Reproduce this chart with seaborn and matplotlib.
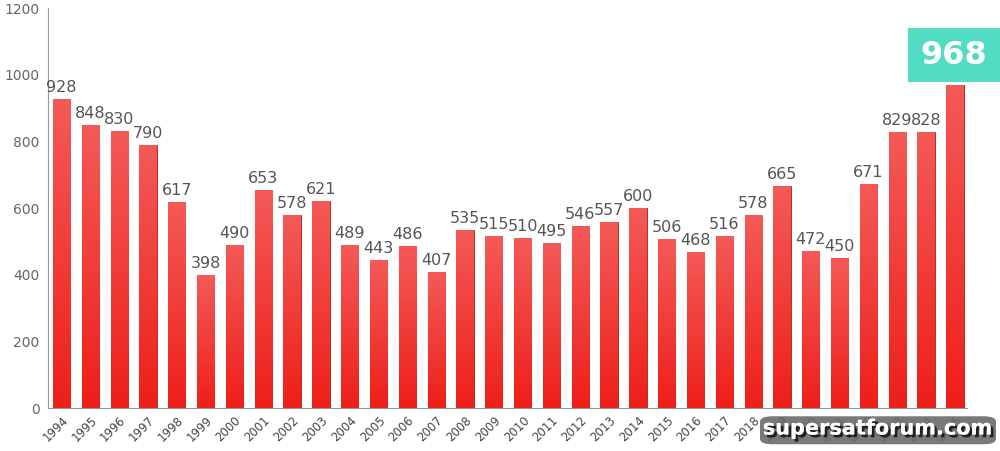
import numpy as np
import pandas as pd
import matplotlib
matplotlib.use("Agg")
import matplotlib.pyplot as plt
import matplotlib.patheffects as pe
import seaborn as sns
from matplotlib.patches import FancyBboxPatch

years = [str(y) for y in range(1994, 2026)]
values = [928, 848, 830, 790, 617, 398, 490, 653, 578, 621, 489, 443, 486, 407,
          535, 515, 510, 495, 546, 557, 600, 506, 468, 516, 578, 665, 472, 450,
          671, 829, 828, 968]
yticks = [0, 200, 400, 600, 800, 1000, 1200]

df = pd.DataFrame({'year': years, 'value': values})

sns.set_style('white')
plt.rcParams['font.family'] = ['DejaVu Sans']

fig, ax = plt.subplots(figsize=(10, 4.51), dpi=100)
fig.subplots_adjust(left=0.048, right=0.967, top=0.982, bottom=0.095)

sns.barplot(data=df, x='year', y='value', color='#ec2a22', width=0.6,
            edgecolor='#b81a14', linewidth=0.6, ax=ax)

# vertical gradient on the bars (lighter at top)
grad = np.linspace(0, 1, 256).reshape(-1, 1)
cmap = matplotlib.colors.LinearSegmentedColormap.from_list('r', ['#ee1f18', '#f45a58'])
for p in ax.patches:
    x0, y0 = p.get_x(), p.get_y()
    w, h = p.get_width(), p.get_height()
    im = ax.imshow(grad, cmap=cmap, aspect='auto', origin='lower',
                   extent=[x0, x0 + w, y0, y0 + h], zorder=p.get_zorder() + 0.1)
    im.set_clip_path(p)

# value labels (last one goes in the teal box)
for i, v in enumerate(values[:-1]):
    ax.text(i, v + 12, str(v), ha='center', va='bottom', fontsize=11.5, color='#555555')

ax.set_xlim(-0.47, len(values) - 0.58)
ax.set_ylim(0, 1200)
ax.set_yticks(yticks)
ax.set_yticklabels([str(t) for t in yticks], fontsize=10, color='#666666')
ax.set_xticks(range(len(years)))
ax.set_xticklabels(years, rotation=45, ha='right', rotation_mode='anchor',
                   fontsize=8.5, color='#444444')
ax.tick_params(axis='both', length=0, pad=6)
ax.tick_params(axis='x', pad=4)
ax.set_xlabel('')
ax.set_ylabel('')
sns.despine(ax=ax, top=True, right=True)
ax.spines['left'].set_color('#999999')
ax.spines['bottom'].set_color('#999999')
ax.spines['left'].set_linewidth(0.8)
ax.spines['bottom'].set_linewidth(0.8)

# highlight box for the latest value
fig.patches.append(plt.Rectangle((0.908, 0.818), 0.092, 0.12, transform=fig.transFigure,
                                 facecolor='#52dcc3', edgecolor='none', zorder=5))
fig.text(0.954, 0.878, str(values[-1]), ha='center', va='center', fontsize=23,
         fontweight='bold', color='white', zorder=6)

# watermark
fig.patches.append(FancyBboxPatch((0.760, 0.015), 0.236, 0.062, transform=fig.transFigure,
                                  boxstyle='round,pad=0,rounding_size=0.012',
                                  facecolor='#6a6a6a', edgecolor='none', alpha=0.9, zorder=5))
fig.text(0.878, 0.050, 'supersatforum.com', ha='center', va='center', fontsize=15,
         fontweight='bold', color='white', zorder=7,
         path_effects=[pe.withSimplePatchShadow(offset=(2, -2), shadow_rgbFace='#202020', alpha=1),
                       pe.Normal()])

plt.savefig('out.png', dpi=100)
